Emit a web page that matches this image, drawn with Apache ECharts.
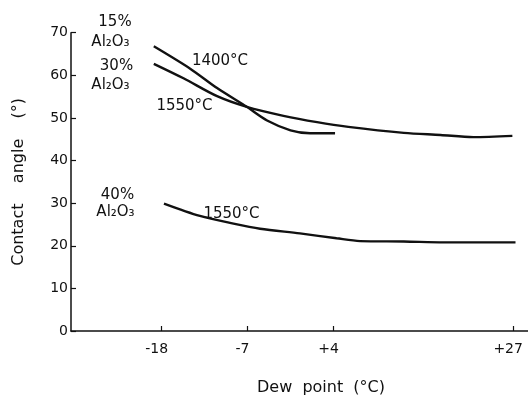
<!DOCTYPE html>
<html>
<head>
<meta charset="utf-8">
<script src="https://cdn.jsdelivr.net/npm/echarts@6/dist/echarts.min.js"></script>
<style>
  html, body { margin: 0; padding: 0; background: #fff; }
  #chart { width: 528px; height: 401px; }
</style>
</head>
<body>
<div id="chart"></div>
<script>
// dew point ticks shown on the x axis
const dewTicks = [-18, -7, 4, 27];

// 15% Al2O3, 1400 C
const dew15 = [-19.0, -14.3, -10.9, -7.1, -4.5, -1.5, 1.0, 4.2];
const angle15 = [66.8, 61.5, 57.0, 52.6, 49.4, 47.1, 46.4, 46.4];

// 30% Al2O3, 1550 C
const dew30 = [-19.0, -15.2, -10.9, -7.1, -2.4, 1.9, 5.9, 13.0, 17.7, 21.9, 26.9];
const angle30 = [62.7, 59.3, 55.1, 52.6, 50.5, 49.0, 47.9, 46.5, 46.0, 45.5, 45.8];

// 40% Al2O3, 1550 C
const dew40 = [-17.7, -13.1, -8.8, -5.4, -0.3, 4.4, 7.4, 13.0, 18.1, 27.3];
const angle40 = [29.9, 27.0, 25.2, 24.0, 22.9, 21.75, 21.1, 21.0, 20.8, 20.8];

const FONT = 'DejaVu Sans';
const INK = '#111';

function pairs(xs, ys) {
  return xs.map((x, i) => [x, ys[i]]);
}

function curve(xs, ys) {
  return {
    type: 'line',
    data: pairs(xs, ys),
    smooth: 0.3,
    showSymbol: false,
    silent: true,
    lineStyle: { color: INK, width: 2.4 }
  };
}

function note(text, x, y) {
  return {
    type: 'text',
    x: x,
    y: y,
    style: {
      text: text,
      fill: INK,
      font: '15px "' + FONT + '"',
      align: 'center',
      verticalAlign: 'middle'
    }
  };
}

const chart = echarts.init(document.getElementById('chart'));

chart.setOption({
  backgroundColor: '#fff',
  animation: false,
  grid: { left: 71, right: 0, top: 32.7, bottom: 60.3 },
  xAxis: {
    type: 'value',
    min: -29.6,
    max: 28.9,
    name: 'Dew  point  (°C)',
    nameLocation: 'middle',
    nameGap: 49,
    nameTextStyle: { color: INK, fontFamily: FONT, fontSize: 16, padding: [0, 0, 0, 43] },
    axisLine: { onZero: false, lineStyle: { color: INK, width: 1.5 } },
    axisTick: { customValues: dewTicks, inside: true, length: 5, lineStyle: { color: INK, width: 1.2 } },
    axisLabel: {
      customValues: dewTicks,
      color: INK,
      fontFamily: FONT,
      fontSize: 14,
      margin: 11,
      padding: [0, 10, 0, 0],
      formatter: v => (v > 0 ? '+' + v : String(v))
    },
    splitLine: { show: false }
  },
  yAxis: {
    type: 'value',
    min: 0,
    max: 70,
    interval: 10,
    name: 'Contact    angle    (°)',
    nameLocation: 'middle',
    nameGap: 44,
    nameTextStyle: { color: INK, fontFamily: FONT, fontSize: 16 },
    axisLine: { show: true, onZero: false, lineStyle: { color: INK, width: 1.5 } },
    axisTick: { show: true, inside: true, length: 5, lineStyle: { color: INK, width: 1.2 } },
    axisLabel: {
      color: INK,
      fontFamily: FONT,
      fontSize: 14,
      margin: 3
    },
    splitLine: { show: false }
  },
  series: [
    curve(dew15, angle15),
    curve(dew30, angle30),
    curve(dew40, angle40)
  ],
  graphic: [
    note('15%', 115, 22.5),
    note('Al₂O₃', 110.5, 42),
    note('30%', 116.5, 66),
    note('Al₂O₃', 110.5, 85),
    note('1400°C', 220, 61.5),
    note('1550°C', 184.5, 106.5),
    note('40%', 117.5, 195),
    note('Al₂O₃', 115.5, 212.5),
    note('1550°C', 231.5, 214.5)
  ]
});
</script>
</body>
</html>
